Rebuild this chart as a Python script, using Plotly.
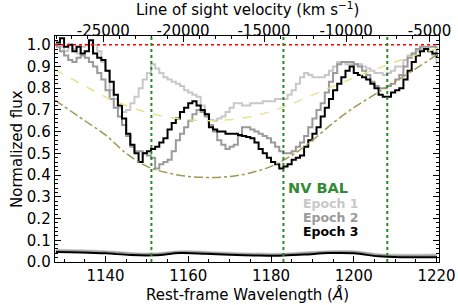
import numpy as np
import plotly.graph_objects as go

C_KMS = 299792.458
NV_REST = 1238.82

# Rest-frame wavelength grid (Angstrom), 1 A bins
wave = list(range(1128, 1221))

epoch1 = [1.00, 0.99, 0.97, 1.00, 0.98, 0.96, 0.99, 1.00, 1.00, 1.00,
          0.97, 0.92, 0.88, 0.79, 0.75, 0.71, 0.69, 0.70, 0.73, 0.76,
          0.80, 0.84, 0.87, 0.91, 0.89, 0.87, 0.85, 0.84, 0.83, 0.82,
          0.81, 0.79, 0.78, 0.77, 0.76, 0.72, 0.68, 0.655, 0.65, 0.66,
          0.67, 0.69, 0.71, 0.73, 0.73, 0.72, 0.72, 0.73, 0.73, 0.73,
          0.74, 0.74, 0.74, 0.75, 0.75, 0.75, 0.77, 0.79, 0.82, 0.85,
          0.87, 0.86, 0.85, 0.85, 0.85, 0.86, 0.88, 0.90, 0.92, 0.92,
          0.91, 0.91, 0.91, 0.91, 0.90, 0.89, 0.88, 0.87, 0.87, 0.86,
          0.87, 0.88, 0.90, 0.90, 0.93, 0.95, 0.96, 0.97, 0.98, 0.98,
          0.97, 0.95, 0.91]

epoch2 = [0.99, 0.97, 0.95, 0.93, 0.92, 0.94, 0.95, 0.94, 0.92, 0.90,
          0.87, 0.84, 0.79, 0.75, 0.71, 0.67, 0.63, 0.58, 0.53, 0.51,
          0.51, 0.50, 0.49, 0.48, 0.43, 0.45, 0.46, 0.47, 0.51, 0.56,
          0.59, 0.62, 0.65, 0.68, 0.70, 0.69, 0.67, 0.63, 0.60, 0.56,
          0.54, 0.52, 0.53, 0.54, 0.58, 0.62, 0.62, 0.61, 0.60, 0.59,
          0.58, 0.57, 0.55, 0.53, 0.51, 0.50, 0.50, 0.51, 0.53, 0.55,
          0.58, 0.62, 0.66, 0.70, 0.73, 0.78, 0.83, 0.87, 0.91, 0.92,
          0.92, 0.92, 0.91, 0.90, 0.88, 0.86, 0.83, 0.81, 0.80, 0.80,
          0.81, 0.82, 0.84, 0.86, 0.90, 0.94, 0.96, 0.98, 0.99, 0.99,
          0.99, 0.99, 0.96]

epoch3 = [1.01, 1.03, 0.99, 1.00, 0.97, 0.99, 0.96, 0.97, 1.02, 0.96,
          0.94, 0.93, 0.88, 0.83, 0.77, 0.72, 0.66, 0.59, 0.54, 0.50,
          0.46, 0.50, 0.51, 0.52, 0.53, 0.55, 0.57, 0.61, 0.64, 0.66,
          0.69, 0.71, 0.73, 0.74, 0.72, 0.70, 0.68, 0.62, 0.61, 0.60,
          0.60, 0.59, 0.59, 0.59, 0.585, 0.58, 0.575, 0.57, 0.55, 0.52,
          0.50, 0.48, 0.46, 0.45, 0.43, 0.44, 0.45, 0.47, 0.48, 0.49,
          0.53, 0.56, 0.59, 0.62, 0.67, 0.71, 0.75, 0.79, 0.82, 0.85,
          0.88, 0.90, 0.87, 0.86, 0.85, 0.84, 0.82, 0.80, 0.77, 0.76,
          0.76, 0.78, 0.79, 0.80, 0.84, 0.88, 0.92, 0.95, 0.97, 0.98,
          0.97, 0.96, 0.94]

# Error spectra
noise_wave = [1128, 1134, 1140, 1146, 1152, 1158, 1164, 1170, 1176, 1182,
              1188, 1194, 1200, 1206, 1212, 1220]
noise1 = [0.056, 0.054, 0.050, 0.042, 0.040, 0.050, 0.047, 0.042, 0.039, 0.038,
          0.044, 0.050, 0.050, 0.036, 0.033, 0.034]
noise2 = [0.052, 0.050, 0.046, 0.038, 0.036, 0.046, 0.043, 0.038, 0.035, 0.034,
          0.040, 0.046, 0.046, 0.032, 0.029, 0.030]
noise3 = [0.046, 0.044, 0.040, 0.032, 0.031, 0.041, 0.038, 0.033, 0.030, 0.029,
          0.034, 0.041, 0.040, 0.026, 0.022, 0.022]

# Continuum-like fit curves
fit_wave = [1127.8, 1135, 1140, 1145, 1150, 1155, 1160, 1165, 1170, 1175,
            1180, 1185, 1190, 1195, 1200, 1205, 1210, 1215, 1220.6]
fit_yellow = [0.885, 0.81, 0.76, 0.72, 0.688, 0.667, 0.655, 0.65, 0.655, 0.668,
              0.693, 0.728, 0.768, 0.808, 0.848, 0.885, 0.92, 0.952, 0.985]
fit_olive = [0.745, 0.65, 0.585, 0.50, 0.44, 0.41, 0.394, 0.389, 0.393, 0.41,
             0.44, 0.49, 0.56, 0.64, 0.71, 0.77, 0.83, 0.89, 0.96]

# Vertical marker wavelengths
marker_wave = [1151.1, 1183.0, 1208.1]

vel_major = [-25000, -20000, -15000, -10000, -5000]
vel_minor = list(range(-28000, -3000, 1000))

XMIN, XMAX = 1127.8, 1220.6
YMIN, YMAX = 0.0, 1.04


def vel_to_wave(v):
    b = v / C_KMS
    return NV_REST * np.sqrt((1 + b) / (1 - b))


fig = go.Figure()

# noise
for ys, col, w in [(noise1, "#cccccc", 2.0), (noise2, "#9a9a9a", 2.0), (noise3, "#000000", 2.0)]:
    fig.add_trace(go.Scatter(x=noise_wave, y=ys, mode="lines",
                             line=dict(color=col, width=w, shape="spline", smoothing=1.0),
                             showlegend=False, hoverinfo="skip"))

for ys, col in [(epoch1, "#c8c8c8"), (epoch2, "#9a9a9a"), (epoch3, "#000000")]:
    fig.add_trace(go.Scatter(x=wave, y=ys, mode="lines",
                             line=dict(color=col, width=2, shape="hv"),
                             showlegend=False, hoverinfo="skip"))

fig.add_trace(go.Scatter(x=fit_wave, y=fit_yellow, mode="lines",
                         line=dict(color="#e4e48c", width=1.5, dash="dash", shape="spline"),
                         showlegend=False, hoverinfo="skip"))
fig.add_trace(go.Scatter(x=fit_wave, y=fit_olive, mode="lines",
                         line=dict(color="#9a9a50", width=1.5, dash="dashdot", shape="spline"),
                         showlegend=False, hoverinfo="skip"))

# invisible trace to anchor the top axis
fig.add_trace(go.Scatter(x=[XMIN, XMAX], y=[0.5, 0.5], xaxis="x2", mode="lines",
                         line=dict(width=0), opacity=0, showlegend=False, hoverinfo="skip"))

# red continuum level
fig.add_shape(type="line", xref="x", yref="y", x0=XMIN, x1=XMAX, y0=1.0, y1=1.0,
              line=dict(color="red", width=1.5, dash="dot"))
for mw in marker_wave:
    fig.add_shape(type="line", xref="x", yref="paper", x0=mw, x1=mw, y0=0, y1=1,
                  line=dict(color="#2a8a2a", width=2, dash="dot"))

FONT = "DejaVu Sans"
fig.add_annotation(x=1183.6, y=0.342, xref="x", yref="y", text="<b>NV BAL</b>",
                   showarrow=False, xanchor="left", yanchor="middle",
                   font=dict(family=FONT, size=14.5, color="#348a34"))
for txt, yy, col in [("Epoch 1", 0.270, "#c8c8c8"), ("Epoch 2", 0.206, "#9a9a9a"),
                     ("Epoch 3", 0.141, "#000000")]:
    fig.add_annotation(x=1187.2, y=yy, xref="x", yref="y", text="<b>" + txt + "</b>",
                       showarrow=False, xanchor="left", yanchor="middle",
                       font=dict(family=FONT, size=12.5, color=col))

# axis titles
title_font = dict(family=FONT, size=15, color="black")
fig.add_annotation(x=0.5, y=0, xref="paper", yref="paper", yshift=-32,
                   text="Rest-frame Wavelength (<i>Å</i>)", showarrow=False,
                   xanchor="center", yanchor="middle", font=title_font)
fig.add_annotation(x=0.5, y=1, xref="paper", yref="paper", yshift=27,
                   text="Line of sight velocity (km s<sup>−1</sup>)", showarrow=False,
                   xanchor="center", yanchor="middle", font=title_font)
fig.add_annotation(x=0, y=0.5, xref="paper", yref="paper", xshift=-38,
                   text="Normalized flux", showarrow=False, textangle=-90,
                   xanchor="center", yanchor="middle", font=title_font)

axis_common = dict(showline=True, linecolor="black", linewidth=1.3, ticks="inside",
                   tickcolor="black", ticklen=6, tickwidth=1, showgrid=False, zeroline=False,
                   automargin=False,
                   tickfont=dict(family=FONT, size=15, color="black"))

fig.update_layout(
    width=458, height=305,
    margin=dict(l=55, r=19, t=36, b=43),
    paper_bgcolor="white", plot_bgcolor="white",
    xaxis=dict(range=[XMIN, XMAX], tickvals=[1140, 1160, 1180, 1200, 1220],
               minor=dict(dtick=5, tick0=1125, ticks="inside", ticklen=3, tickcolor="black"),
               **axis_common),
    xaxis2=dict(range=[XMIN, XMAX], overlaying="x", side="top", anchor="y",
                tickmode="array",
                tickvals=[float(vel_to_wave(v)) for v in vel_major],
                ticktext=[str(v) for v in vel_major],
                ticklabelstandoff=-7,
                minor=dict(tickmode="array",
                           tickvals=[float(vel_to_wave(v)) for v in vel_minor
                                     if XMIN < vel_to_wave(v) < XMAX],
                           ticks="inside", ticklen=3, tickcolor="black"),
                **axis_common),
    yaxis=dict(range=[YMIN, YMAX], dtick=0.1, tickformat=".1f", mirror="ticks",
               minor=dict(dtick=0.02, ticks="inside", ticklen=3, tickcolor="black"),
               **axis_common),
)

fig.write_html("out.html", config={"displayModeBar": False, "staticPlot": True},
               post_script="document.body.style.margin='0';")
